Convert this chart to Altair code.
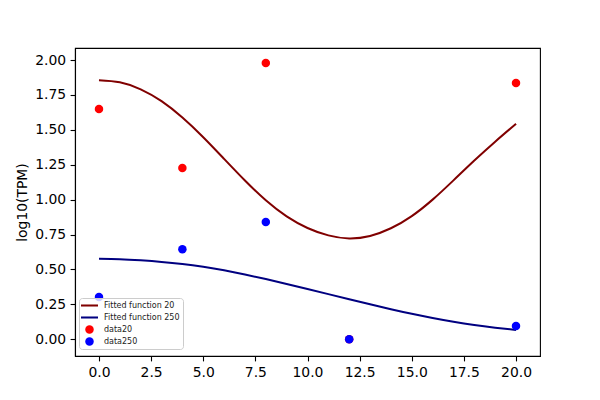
import altair as alt
import pandas as pd

fit_t = list(range(0, 21))
fit20 = [1.855, 1.840, 1.790, 1.705, 1.588, 1.447, 1.292, 1.137, 0.995, 0.880, 0.797,
         0.744, 0.722, 0.740, 0.795, 0.882, 1.000, 1.138, 1.280, 1.415, 1.543]
fit250 = [0.576, 0.573, 0.565, 0.554, 0.539, 0.519, 0.494, 0.464, 0.431, 0.396, 0.360,
          0.323, 0.286, 0.250, 0.215, 0.182, 0.152, 0.125, 0.102, 0.083, 0.066]

# Observed data
data_t = [0, 4, 8, 12, 20]
data20 = [1.649, 1.226, 1.978, 0.0, 1.835]
data250 = [0.303, 0.645, 0.839, 0.0, 0.095]

series_names = ["Fitted function 20", "Fitted function 250", "data20", "data250"]
series_colors = ["#800000", "#000080", "#ff0000", "#0000ff"]
x_ticks = [0, 2.5, 5, 7.5, 10, 12.5, 15, 17.5, 20]
y_ticks = [0, 0.25, 0.5, 0.75, 1.0, 1.25, 1.5, 1.75, 2.0]

lines = pd.DataFrame(
    [{"t": t, "v": v, "series": series_names[0]} for t, v in zip(fit_t, fit20)]
    + [{"t": t, "v": v, "series": series_names[1]} for t, v in zip(fit_t, fit250)]
)
points = pd.DataFrame(
    [{"t": t, "v": v, "series": series_names[2], "o": 0} for t, v in zip(data_t, data20)]
    + [{"t": t, "v": v, "series": series_names[3], "o": 1} for t, v in zip(data_t, data250)]
)

FONT = "DejaVu Sans"
line_path = "M-2,-0.24H2V0.24H-2Z"

xs = alt.Scale(domain=[-1.15, 21.15], nice=False, zero=False)
ys = alt.Scale(domain=[-0.12, 2.086], nice=False, zero=False)
xax = alt.Axis(values=x_ticks, format=".1f", title=None, grid=False, labelFlush=False,
               labelOverlap=False)
yax = alt.Axis(values=y_ticks, format=".2f", title="log10(TPM)", grid=False,
               labelFlush=False, labelOverlap=False, titleX=-46)

line_layer = alt.Chart(lines).mark_line(strokeWidth=2, interpolate="natural").encode(
    x=alt.X("t:Q", scale=xs, axis=xax),
    y=alt.Y("v:Q", scale=ys, axis=yax),
    stroke=alt.Stroke("series:N", scale=alt.Scale(domain=series_names[:2],
                                                  range=series_colors[:2]), legend=None),
    detail="series:N",
)

point_layer = alt.Chart(points).mark_point(filled=True, size=72, opacity=1).encode(
    x=alt.X("t:Q", scale=xs, axis=xax),
    y=alt.Y("v:Q", scale=ys, axis=yax),
    color=alt.Color("series:N", scale=alt.Scale(domain=series_names, range=series_colors),
                    legend=alt.Legend(title=None, orient="none", legendX=4, legendY=250)),
    shape=alt.Shape("series:N", scale=alt.Scale(domain=series_names,
                                                range=[line_path, line_path, "circle", "circle"]),
                    legend=alt.Legend(title=None, orient="none", legendX=4, legendY=250)),
    order="o:Q",
)

chart = alt.layer(line_layer, point_layer).properties(
    width=465, height=308,
    autosize=alt.AutoSizeParams(type="none"),
    padding={"left": 67, "top": 40, "right": 50, "bottom": 40},
).configure_view(
    stroke="black", strokeWidth=1.1
).configure_axis(
    domainColor="black", domainWidth=1.1, tickColor="black", tickWidth=1.1,
    tickSize=4.9, labelPadding=4.5, labelFont=FONT, labelFontSize=13.9,
    labelColor="black", titleFont=FONT, titleFontSize=13.9, titleColor="black",
    titleFontWeight="normal"
).configure_legend(
    labelFont=FONT, labelFontSize=8, labelColor="#222222", symbolSize=72,
    padding=3, symbolOffset=3, labelOffset=10, rowPadding=3,
    fillColor="rgba(255,255,255,0.8)", strokeColor="#cccccc", cornerRadius=3,
    symbolStrokeWidth=0
)

chart.save("out.html", embed_options={"renderer": "svg", "actions": False})
